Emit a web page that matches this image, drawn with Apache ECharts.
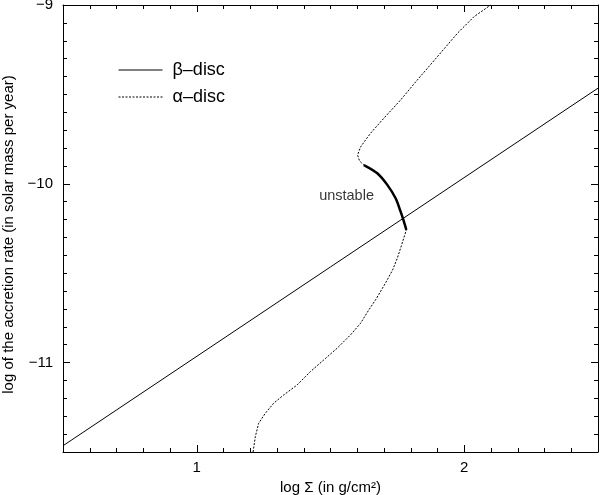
<!DOCTYPE html>
<html>
<head>
<meta charset="utf-8">
<script src="https://cdn.jsdelivr.net/npm/echarts@6/dist/echarts.min.js"></script>
<style>
html,body{margin:0;padding:0;background:#fff;}
#chart{width:600px;height:495px;}
</style>
</head>
<body>
<div id="chart"></div>
<script>
// ---- data ----
var xLabelValues = [1, 2];
var yLabelValues = [-11, -10, -9];
var betaX = [0.5, 2.5];
var betaY = [-11.465, -9.465];
var alphaX = [1.2105, 1.219, 1.2315, 1.2566, 1.2876, 1.3251, 1.3753, 1.4251, 1.4749, 1.5251, 1.5749, 1.6124, 1.6434, 1.6685, 1.706, 1.7322, 1.7498, 1.7659, 1.7835, 1.7745, 1.7622, 1.7434, 1.7124, 1.6749, 1.6247, 1.6086, 1.6011, 1.6124, 1.6311, 1.6498, 1.6996, 1.7622, 1.8247, 1.8996, 1.9745, 2.0367, 2.099];
var alphaY = [-11.5, -11.414, -11.339, -11.283, -11.227, -11.181, -11.125, -11.050, -10.985, -10.919, -10.845, -10.780, -10.705, -10.649, -10.554, -10.482, -10.416, -10.342, -10.258, -10.212, -10.156, -10.081, -10.006, -9.941, -9.895, -9.872, -9.839, -9.794, -9.755, -9.717, -9.633, -9.531, -9.419, -9.289, -9.158, -9.065, -9.0];
var unstableX = [1.7835, 1.7745, 1.7622, 1.7434, 1.7124, 1.6749, 1.6247];
var unstableY = [-10.258, -10.212, -10.156, -10.081, -10.006, -9.941, -9.895];
var noteText = ['unstable'];
var noteX = [1.56];
var noteY = [-10.07];
var betaName = '\u03b2\u2013disc';
var alphaName = '\u03b1\u2013disc';

function zip(a, b) { return a.map(function (v, i) { return [v, b[i]]; }); }
function minus(v) { return String(v).replace('-', '\u2212'); }
// major tick positions (tiny offset works around a tick being skipped at exactly 1)
function tickVals(a) { return a.map(function (v) { return v + 1e-7; }); }
var FONT = '"Liberation Sans", Arial, Helvetica, sans-serif';
var black = '#000';

function xAx(pos, major, labels) {
  return {
    type: 'value', position: pos, min: 0.5, max: 2.5, interval: 0.1,
    axisLine: { show: !major, onZero: false, lineStyle: { color: black, width: 1 } },
    axisTick: major
      ? { show: true, inside: true, length: 7, customValues: tickVals(xLabelValues), lineStyle: { color: black } }
      : { show: true, inside: true, length: 4, lineStyle: { color: black } },
    axisLabel: labels
      ? { show: true, customValues: xLabelValues.slice(), color: black, fontSize: 15, fontFamily: FONT, margin: 8 }
      : { show: false },
    splitLine: { show: false },
    name: labels ? 'log \u03a3 (in g/cm\u00b2)' : '',
    nameLocation: 'middle', nameGap: 26,
    nameTextStyle: { color: black, fontSize: 15, fontFamily: FONT }
  };
}
function yAx(pos, major, labels) {
  return {
    type: 'value', position: pos, min: -11.5, max: -9, interval: 0.1,
    axisLine: { show: !major, onZero: false, lineStyle: { color: black, width: 1 } },
    axisTick: major
      ? { show: true, inside: true, length: 7, customValues: yLabelValues.slice(), lineStyle: { color: black } }
      : { show: true, inside: true, length: 4, lineStyle: { color: black } },
    axisLabel: labels
      ? { show: true, customValues: yLabelValues.slice(), color: black, fontSize: 15, fontFamily: FONT, margin: 10, formatter: minus }
      : { show: false },
    splitLine: { show: false },
    name: labels ? 'log of the accretion rate (in solar mass per year)' : '',
    nameLocation: 'middle', nameGap: 46, nameRotate: 90,
    nameTextStyle: { color: black, fontSize: 15, fontFamily: FONT, padding: [0, 12, 0, 0] }
  };
}

var chart = echarts.init(document.getElementById('chart'), null, { renderer: 'canvas' });
chart.setOption({
  animation: false,
  backgroundColor: '#fff',
  grid: { left: 63, right: 2, top: 5, bottom: 43, containLabel: false, outerBoundsMode: 'none' },
  xAxis: [xAx('bottom', false, true), xAx('bottom', true, false), xAx('top', false, false), xAx('top', true, false)],
  yAxis: [yAx('left', false, true), yAx('left', true, false), yAx('right', false, false), yAx('right', true, false)],
  legend: {
    data: [betaName, alphaName],
    orient: 'vertical', left: 118, top: 61, padding: 0,
    itemWidth: 44, itemHeight: 14, itemGap: 9,
    itemStyle: { opacity: 0 },
    lineStyle: { width: 1 },
    textStyle: { color: black, fontSize: 18, lineHeight: 14, fontFamily: FONT, padding: [0, 0, 0, 5] }
  },
  series: [
    { name: betaName, type: 'line', data: zip(betaX, betaY), symbol: 'none',
      lineStyle: { color: black, width: 1 }, itemStyle: { color: black }, z: 3 },
    { name: alphaName, type: 'line', data: zip(alphaX, alphaY), symbol: 'none',
      lineStyle: { color: black, width: 1, type: [2, 1.5] }, itemStyle: { color: black }, z: 3 },
    { name: 'unstable branch', type: 'line', data: zip(unstableX, unstableY), symbol: 'none', smooth: 0.3,
      lineStyle: { color: black, width: 2.5 }, itemStyle: { color: black }, z: 4 },
    { name: 'note', type: 'scatter', data: zip(noteX, noteY), symbolSize: 0,
      label: { show: true, position: 'inside', formatter: function (p) { return noteText[p.dataIndex]; }, color: black, fontSize: 14.5, fontFamily: FONT } }
  ]
});
</script>
</body>
</html>
